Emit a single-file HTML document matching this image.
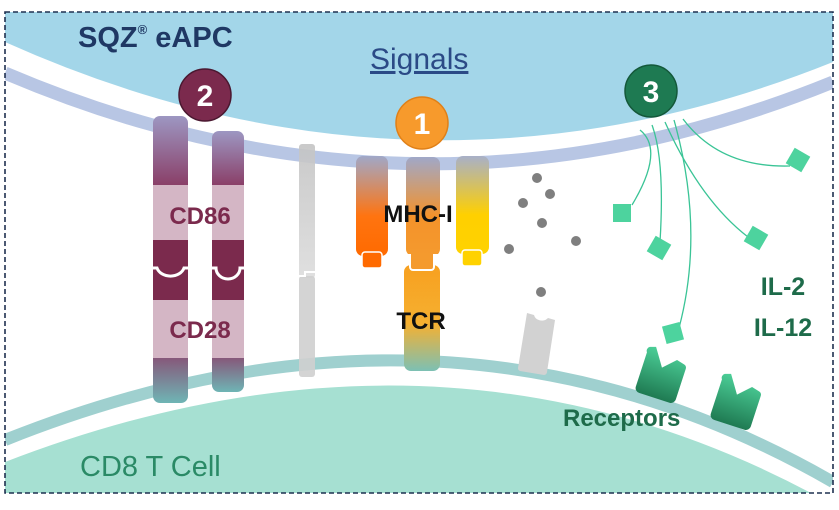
<!DOCTYPE html>
<html><head><meta charset="utf-8"><style>
html,body{margin:0;padding:0;background:#fff;}
svg{display:block;font-family:"Liberation Sans",sans-serif;}
</style></head><body>
<svg width="839" height="510" viewBox="0 0 839 510" xmlns="http://www.w3.org/2000/svg">
<defs>
<clipPath id="box"><rect x="5" y="12" width="828" height="481"/></clipPath>
<linearGradient id="cdTop" x1="0" y1="0" x2="0" y2="1"><stop offset="0" stop-color="#9d97c2"/><stop offset="1" stop-color="#8a3f68"/></linearGradient>
<linearGradient id="cdBot" x1="0" y1="0" x2="0" y2="1"><stop offset="0" stop-color="#86587a"/><stop offset="1" stop-color="#6fb5b5"/></linearGradient>
<linearGradient id="mhcO" x1="0" y1="0" x2="0" y2="1"><stop offset="0" stop-color="#a0a8c8"/><stop offset="0.6" stop-color="#ff7410"/><stop offset="1" stop-color="#ff6a00"/></linearGradient>
<linearGradient id="mhcM" x1="0" y1="0" x2="0" y2="1"><stop offset="0" stop-color="#a0a8c8"/><stop offset="0.6" stop-color="#f4922a"/><stop offset="1" stop-color="#f49a2e"/></linearGradient>
<linearGradient id="mhcY" x1="0" y1="0" x2="0" y2="1"><stop offset="0" stop-color="#a8b0c8"/><stop offset="0.6" stop-color="#ffd000"/><stop offset="1" stop-color="#ffd200"/></linearGradient>
<linearGradient id="tcr" x1="0" y1="0" x2="0" y2="1"><stop offset="0" stop-color="#f7a020"/><stop offset="0.55" stop-color="#f6b030"/><stop offset="1" stop-color="#7cc0b4"/></linearGradient>
<linearGradient id="gray" x1="0" y1="0" x2="0" y2="1"><stop offset="0" stop-color="#c4c4c4"/><stop offset="1" stop-color="#dcdcdc"/></linearGradient>
<linearGradient id="rec" x1="0" y1="0" x2="0" y2="1"><stop offset="0" stop-color="#4ccf98"/><stop offset="1" stop-color="#1f7a52"/></linearGradient>
</defs>
<g clip-path="url(#box)">
<path d="M5,12 H833 V62 Q420,228 5,42 Z" fill="#a3d6e9"/>
<path d="M5,73 Q420,250 833,82" fill="none" stroke="#b8c6e4" stroke-width="13"/>
<path d="M5,462 Q450,290 833,505 V495 H5 Z" fill="#a6e0d2"/>
<path d="M5,440 Q450,262 833,482" fill="none" stroke="#9fd0cf" stroke-width="12"/>
</g>
<rect x="5" y="12" width="828" height="481" fill="none" stroke="#1f3050" stroke-width="1.6" stroke-dasharray="5,3"/>

<text x="78" y="47" font-size="29" font-weight="bold" fill="#1f3864">SQZ<tspan font-size="13" dy="-13">®</tspan><tspan dy="13"> eAPC</tspan></text>
<text x="370" y="69" font-size="30" fill="#2b4a86" text-decoration="underline">Signals</text>
<text x="80" y="476" font-size="29" fill="#2a8a66">CD8 T Cell</text>

<g>
<path d="M153,123 a7,7 0 0 1 7,-7 h21 a7,7 0 0 1 7,7 V185 H153 Z" fill="url(#cdTop)"/>
<rect x="153" y="185" width="35" height="55" fill="#d4b6c5"/>
<rect x="153" y="240" width="35" height="60" fill="#7b2a4d"/>
<rect x="153" y="300" width="35" height="58" fill="#d4b6c5"/>
<path d="M153,358 H188 V396 a7,7 0 0 1 -7,7 H160 a7,7 0 0 1 -7,-7 Z" fill="url(#cdBot)"/>
<path d="M212,138 a7,7 0 0 1 7,-7 h18 a7,7 0 0 1 7,7 V185 H212 Z" fill="url(#cdTop)"/>
<rect x="212" y="185" width="32" height="55" fill="#d4b6c5"/>
<rect x="212" y="240" width="32" height="60" fill="#7b2a4d"/>
<rect x="212" y="300" width="32" height="58" fill="#d4b6c5"/>
<path d="M212,358 H244 V385 a7,7 0 0 1 -7,7 H219 a7,7 0 0 1 -7,-7 Z" fill="url(#cdBot)"/>
<path d="M153,268 h4 a14,11 0 0 0 27,0 h4" fill="none" stroke="#fff" stroke-width="3"/>
<path d="M212,268 h4 a12,11 0 0 0 24,0 h4" fill="none" stroke="#fff" stroke-width="3"/>
<text x="200" y="224" font-size="24" font-weight="bold" fill="#7b2a4d" text-anchor="middle">CD86</text>
<text x="200" y="338" font-size="24" font-weight="bold" fill="#7b2a4d" text-anchor="middle">CD28</text>
</g>
<rect x="299" y="144" width="16" height="134" rx="3" fill="url(#gray)" opacity="0.9"/>
<rect x="299" y="276" width="16" height="101" rx="3" fill="#cfcfcf" opacity="0.9"/>
<path d="M299,276 h6 v-4 h10" stroke="#fff" stroke-width="2" fill="none"/>

<rect x="356" y="156" width="32" height="100" rx="7" fill="url(#mhcO)"/>
<rect x="362" y="252" width="20" height="16" rx="3" fill="#ff6a00" stroke="#fff" stroke-width="1.5"/>
<rect x="406" y="157" width="34" height="99" rx="7" fill="url(#mhcM)"/>
<rect x="456" y="156" width="33" height="98" rx="7" fill="url(#mhcY)"/>
<rect x="462" y="250" width="20" height="16" rx="3" fill="#ffd200" stroke="#fff" stroke-width="1.5"/>
<rect x="404" y="265" width="36" height="106" rx="7" fill="url(#tcr)"/>
<path d="M405,255 h5 v12 a3,3 0 0 0 3,3 h18 a3,3 0 0 0 3,-3 v-12 h5" fill="#f49a2e" stroke="#fff" stroke-width="2"/>
<text x="418" y="222" font-size="24" font-weight="bold" fill="#111" text-anchor="middle">MHC-I</text>
<text x="421" y="329" font-size="24" font-weight="bold" fill="#111" text-anchor="middle">TCR</text>

<g fill="#7f7f7f">
<circle cx="537" cy="178" r="5"/><circle cx="550" cy="194" r="5"/><circle cx="523" cy="203" r="5"/>
<circle cx="542" cy="223" r="5"/><circle cx="509" cy="249" r="5"/><circle cx="576" cy="241" r="5"/>
<circle cx="541" cy="292" r="5"/>
</g>
<path d="M527,313 l7,2 a8,7 0 0 0 14,3 l7,2 l-8,52 a3,3 0 0 1 -3,3 l-24,-4 a3,3 0 0 1 -2,-3 Z" fill="#d2d2d2"/>

<g fill="none" stroke="#3ac496" stroke-width="1.3">
<path d="M640,130 Q665,150 632,205"/>
<path d="M652,125 Q665,160 660,242"/>
<path d="M665,122 Q700,200 748,237"/>
<path d="M674,120 Q705,230 679,328"/>
<path d="M683,119 Q720,168 790,166"/>
</g>
<g fill="#4dd39e">
<rect x="613" y="204" width="18" height="18"/>
<rect x="650" y="239" width="18" height="18" transform="rotate(30 659 248)"/>
<rect x="747" y="229" width="18" height="18" transform="rotate(30 756 238)"/>
<rect x="789" y="151" width="18" height="18" transform="rotate(30 798 160)"/>
<rect x="664" y="324" width="18" height="18" transform="rotate(-15 673 333)"/>
</g>
<g transform="translate(662,374) rotate(18)">
<path d="M-20,-22 l6,-2 l12,18 l12,-12 l8,2 a4,4 0 0 1 3,4 v32 a5,5 0 0 1 -5,5 h-32 a5,5 0 0 1 -5,-5 v-36 a4,4 0 0 1 1,-6 Z" fill="url(#rec)"/>
</g>
<g transform="translate(737,401) rotate(18)">
<path d="M-20,-22 l6,-2 l12,18 l12,-12 l8,2 a4,4 0 0 1 3,4 v32 a5,5 0 0 1 -5,5 h-32 a5,5 0 0 1 -5,-5 v-36 a4,4 0 0 1 1,-6 Z" fill="url(#rec)"/>
</g>
<text x="783" y="295" font-size="25" font-weight="bold" fill="#1e6b4a" text-anchor="middle">IL-2</text>
<text x="783" y="336" font-size="25" font-weight="bold" fill="#1e6b4a" text-anchor="middle">IL-12</text>
<text x="563" y="426" font-size="24" font-weight="bold" fill="#1e6b4a">Receptors</text>

<circle cx="205" cy="95" r="26" fill="#7b2a4d" stroke="#4a1830" stroke-width="1.5"/>
<text x="205" y="106" font-size="30" font-weight="bold" fill="#fff" text-anchor="middle">2</text>
<circle cx="422" cy="123" r="26" fill="#f79a2c" stroke="#e08018" stroke-width="1.5"/>
<text x="422" y="134" font-size="30" font-weight="bold" fill="#fff" text-anchor="middle">1</text>
<circle cx="651" cy="91" r="26" fill="#1e7a52" stroke="#14583a" stroke-width="1.5"/>
<text x="651" y="102" font-size="30" font-weight="bold" fill="#fff" text-anchor="middle">3</text>
</svg>
</body></html>
